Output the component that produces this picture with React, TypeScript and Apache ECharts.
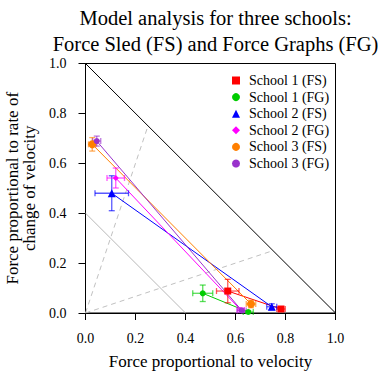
import React, { useEffect, useRef } from "react";
import * as echarts from "echarts";

const schoolNames = [
  "School 1 (FS)",
  "School 1 (FG)",
  "School 2 (FS)",
  "School 2 (FG)",
  "School 3 (FS)",
  "School 3 (FG)",
];
const schoolColors = ["#FF0000", "#00CC00", "#0000FF", "#FF00FF", "#FF7F00", "#9932CC"];
const schoolSymbols = ["rect", "circle", "triangle", "diamond", "circle", "circle"];
const schoolSymbolSizes = [7, 6, 8, 6, 8, 6];

// first point of each school (x, y, x error, y error)
const firstX = [0.569, 0.469, 0.105, 0.121, 0.027, 0.045];
const firstY = [0.088, 0.079, 0.48, 0.541, 0.676, 0.689];
const firstXErr = [0.045, 0.04, 0.067, 0.035, 0.015, 0.016];
const firstYErr = [0.047, 0.033, 0.07, 0.04, 0.027, 0.02];
// second point of each school
const secondX = [0.782, 0.651, 0.745, 0.621, 0.662, 0.625];
const secondY = [0.016, 0.004, 0.025, 0.012, 0.036, 0.01];
const secondXErr = [0.017, 0.02, 0.02, 0.015, 0.019, 0.018];
const secondYErr = [0.008, 0.006, 0.012, 0.008, 0.015, 0.008];

// model reference lines
const diagonalLine = [[0, 1], [1, 0]];
const lowerLine = [[0, 0.4], [0.4, 0]];
const dashedSteep = [[0, 0], [0.25, 0.75]];
const dashedShallow = [[0, 0], [0.75, 0.25]];

const axisTicks = [0, 0.2, 0.4, 0.6, 0.8, 1.0];

const FONT = "Liberation Serif";

export default function App() {
  const ref = useRef<HTMLDivElement>(null);

  useEffect(() => {
    if (!ref.current) return;
    const chart = echarts.init(ref.current, null, { renderer: "svg" });

    const refLine = (name: string, data: number[][], color: string, type: any, width = 1) => ({
      name,
      type: "line",
      data,
      symbol: "none",
      silent: true,
      lineStyle: { color, width, type },
      z: 1,
    });

    const series: any[] = [
      refLine("diag", diagonalLine, "#000000", "solid", 1),
      refLine("low", lowerLine, "#B8B8B8", "solid", 1),
      refLine("dashA", dashedSteep, "#C0C0C0", [5, 4], 1),
      refLine("dashB", dashedShallow, "#C0C0C0", [5, 4], 1),
    ];

    schoolNames.forEach((name, i) => {
      const color = schoolColors[i];
      series.push({
        name: "link" + i,
        type: "line",
        data: [
          [firstX[i], firstY[i]],
          [secondX[i], secondY[i]],
        ],
        symbol: "none",
        silent: true,
        lineStyle: { color, width: 1 },
        z: 2,
      });
      series.push({
        name: "err" + i,
        type: "custom",
        silent: true,
        z: 3,
        data: [
          [firstX[i], firstY[i], firstXErr[i], firstYErr[i]],
          [secondX[i], secondY[i], secondXErr[i], secondYErr[i]],
        ],
        encode: { x: 0, y: 1 },
        renderItem: (params: any, api: any) => {
          const x = api.value(0);
          const y = api.value(1);
          const ex = api.value(2);
          const ey = api.value(3);
          const c = api.coord([x, y]);
          const l = api.coord([x - ex, y]);
          const r = api.coord([x + ex, y]);
          const t = api.coord([x, y + ey]);
          const b = api.coord([x, y - ey]);
          const cap = 3;
          const style = { stroke: color, lineWidth: 1.3, opacity: 0.65 };
          const ln = (x1: number, y1: number, x2: number, y2: number) => ({
            type: "line",
            shape: { x1, y1, x2, y2 },
            style,
          });
          return {
            type: "group",
            children: [
              ln(l[0], c[1], r[0], c[1]),
              ln(c[0], t[1], c[0], b[1]),
              ln(l[0], c[1] - cap, l[0], c[1] + cap),
              ln(r[0], c[1] - cap, r[0], c[1] + cap),
              ln(c[0] - cap, t[1], c[0] + cap, t[1]),
              ln(c[0] - cap, b[1], c[0] + cap, b[1]),
            ],
          };
        },
      });
      series.push({
        name,
        type: "scatter",
        data: [
          [firstX[i], firstY[i]],
          [secondX[i], secondY[i]],
        ],
        symbol: schoolSymbols[i],
        symbolSize: schoolSymbolSizes[i],
        itemStyle: { color, opacity: 1 },
        z: 4,
      });
    });

    const axisCommon = {
      type: "value",
      min: 0,
      max: 1,
      interval: 0.2,
      nameLocation: "middle",
      axisLine: { show: true, onZero: false, lineStyle: { color: "#000", width: 1 } },
      axisTick: { show: true, inside: false, length: 7, lineStyle: { color: "#000", width: 1 } },
      splitLine: { show: false },
      axisLabel: {
        color: "#000",
        fontFamily: FONT,
        fontSize: 14,
        formatter: (v: number) => (axisTicks.some((t) => Math.abs(t - v) < 1e-9) ? v.toFixed(1) : ""),
      },
      nameTextStyle: { color: "#000", fontFamily: FONT, fontSize: 17, lineHeight: 17 },
    };

    chart.setOption({
      animation: false,
      backgroundColor: "#ffffff",
      textStyle: { fontFamily: FONT },
      title: {
        text: "Model analysis for three schools:\nForce Sled (FS) and Force Graphs (FG)",
        left: 210.5,
        top: 0,
        textAlign: "center",
        textStyle: {
          color: "#000",
          fontFamily: FONT,
          fontSize: 20.5,
          fontWeight: "normal",
          lineHeight: 26,
        },
      },
      grid: {
        left: 85.5,
        top: 63.5,
        width: 250,
        height: 249.5,
        show: true,
        borderColor: "#000",
        borderWidth: 1,
        backgroundColor: "transparent",
        containLabel: false,
        outerBoundsMode: "none",
      },
      xAxis: {
        ...axisCommon,
        name: "Force proportional to velocity",
        nameGap: 40,
        axisLabel: { ...axisCommon.axisLabel, margin: 18 },
      },
      yAxis: {
        ...axisCommon,
        name: "Force proportional to rate of\nchange of velocity",
        nameGap: 46,
        nameRotate: 90,
        axisLabel: { ...axisCommon.axisLabel, margin: 19 },
      },
      legend: {
        orient: "vertical",
        left: 232,
        top: 73.5,
        itemWidth: 8,
        itemHeight: 8,
        itemGap: 2.6,
        padding: 0,
        selectedMode: false,
        data: schoolNames.map((n, i) => ({ name: n, icon: schoolSymbols[i] })),
        textStyle: {
          color: "#000",
          fontFamily: FONT,
          fontSize: 14,
          lineHeight: 14,
          padding: [0, 0, 0, 4],
        },
      },
      series,
    });

    return () => chart.dispose();
  }, []);

  return (
    <div
      ref={ref}
      style={{ position: "fixed", left: 0, top: 0, width: 378, height: 371, background: "#fff" }}
    />
  );
}
